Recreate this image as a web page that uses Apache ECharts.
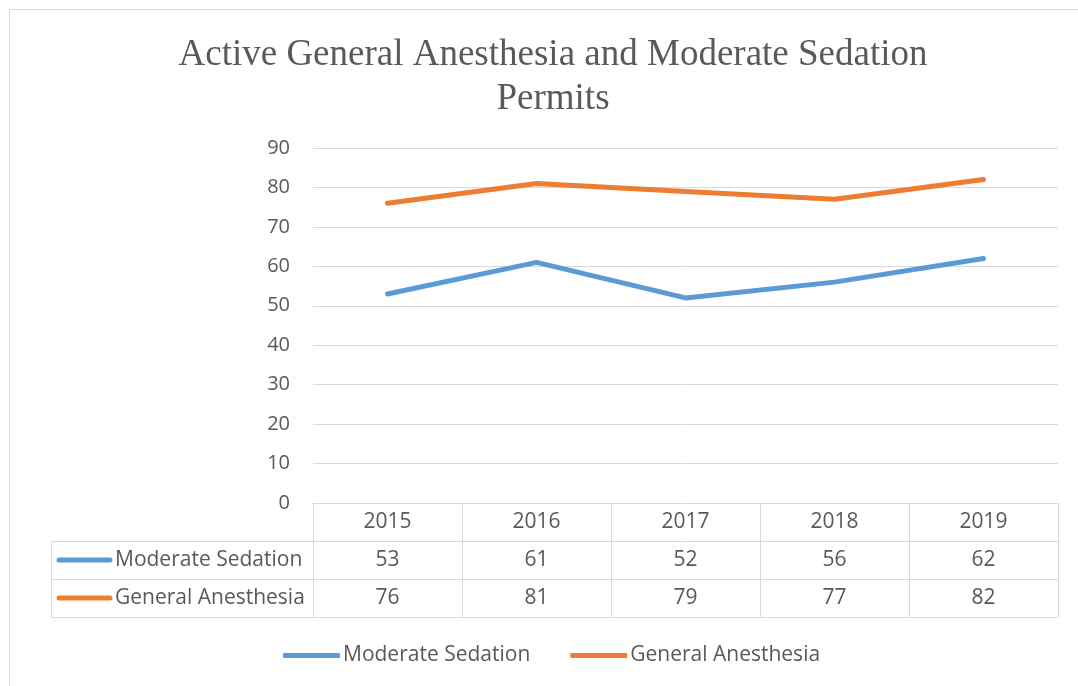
<!DOCTYPE html>
<html>
<head>
<meta charset="utf-8">
<script src="https://cdn.jsdelivr.net/npm/echarts@6/dist/echarts.min.js"></script>
<style>
  html, body { margin: 0; padding: 0; background: #fff; }
  #chart { width: 1078px; height: 686px; }
</style>
</head>
<body>
<div id="chart"></div>
<script>
var years = ['2015', '2016', '2017', '2018', '2019'];
var moderateSedation = [53, 61, 52, 56, 62];
var generalAnesthesia = [76, 81, 79, 77, 82];
var seriesNames = ['Moderate Sedation', 'General Anesthesia'];
var seriesColors = ['#5B9BD5', '#ED7D31'];

var textColor = '#595959';
var lineColor = '#d9d9d9';
var font = 'Open Sans';
var fontSize = 21;

var myChart = echarts.init(document.getElementById('chart'));

// one x axis per table row, shifted down with offset
function tableRow(data, offset, showLabel) {
    return {
        type: 'category',
        data: data,
        position: 'bottom',
        offset: offset,
        boundaryGap: true,
        axisLine: {show: true, lineStyle: {color: lineColor, width: 1}},
        axisTick: {show: false},
        axisLabel: {
            show: showLabel,
            interval: 0,
            margin: 19,
            verticalAlign: 'middle',
            color: textColor,
            fontFamily: font,
            fontSize: fontSize
        }
    };
}

var xAxes = [
    tableRow(years, 0, true),
    tableRow(moderateSedation, 38, true),
    tableRow(generalAnesthesia, 76, true),
    tableRow(years, 114, false)
];
// vertical table lines from the first axis ticks
xAxes[0].axisTick = {show: true, interval: 0, length: 114, lineStyle: {color: lineColor, width: 1}};

// left column of the table (row keys)
var graphics = [
    {type: 'rect', shape: {x: 9.5, y: 9.5, width: 1100, height: 700}, style: {fill: 'none', stroke: lineColor, lineWidth: 1}, silent: true},
    {type: 'line', shape: {x1: 51.5, y1: 541, x2: 51.5, y2: 617}, style: {stroke: lineColor, lineWidth: 1}},
    {type: 'line', shape: {x1: 51, y1: 541.5, x2: 313, y2: 541.5}, style: {stroke: lineColor, lineWidth: 1}},
    {type: 'line', shape: {x1: 51, y1: 579.5, x2: 313, y2: 579.5}, style: {stroke: lineColor, lineWidth: 1}},
    {type: 'line', shape: {x1: 51, y1: 617.5, x2: 313, y2: 617.5}, style: {stroke: lineColor, lineWidth: 1}}
];
seriesNames.forEach(function (name, i) {
    var cy = 560 + i * 38;
    graphics.push({type: 'line', shape: {x1: 59, y1: cy, x2: 110, y2: cy},
        style: {stroke: seriesColors[i], lineWidth: 5, lineCap: 'round'}});
    graphics.push({type: 'text', x: 115, y: cy,
        style: {text: name, fill: textColor, font: fontSize + 'px "' + font + '"', verticalAlign: 'middle', align: 'left'}});
});

var options = {
    backgroundColor: '#fff',
    animation: false,
    title: {
        text: 'Active General Anesthesia and Moderate Sedation\nPermits',
        left: 548,
        top: 28,
        textAlign: 'center',
        textStyle: {
            fontFamily: 'Liberation Serif',
            fontSize: 37,
            fontWeight: 'normal',
            color: textColor,
            lineHeight: 44
        }
    },
    legend: {
        data: seriesNames,
        left: 278,
        top: 640,
        itemGap: 40,
        itemWidth: 57,
        itemHeight: 5,
        icon: 'roundRect',
        textStyle: {color: textColor, fontFamily: font, fontSize: fontSize, padding: [0, 0, 0, -2]}
    },
    grid: {left: 313, right: 20, top: 148, bottom: 183, containLabel: false},
    xAxis: xAxes,
    yAxis: {
        type: 'value',
        min: 0,
        max: 90,
        interval: 10,
        axisLine: {show: false},
        axisTick: {show: false},
        axisLabel: {color: textColor, fontFamily: font, fontSize: 20, margin: 23},
        splitLine: {lineStyle: {color: lineColor, width: 1}}
    },
    graphic: graphics,
    series: [
        {
            name: seriesNames[0],
            type: 'line',
            data: moderateSedation,
            symbol: 'none',
            color: seriesColors[0],
            lineStyle: {width: 5, cap: 'round', join: 'round'}
        },
        {
            name: seriesNames[1],
            type: 'line',
            data: generalAnesthesia,
            symbol: 'none',
            color: seriesColors[1],
            lineStyle: {width: 5, cap: 'round', join: 'round'}
        }
    ]
};
myChart.setOption(options);
</script>
</body>
</html>
